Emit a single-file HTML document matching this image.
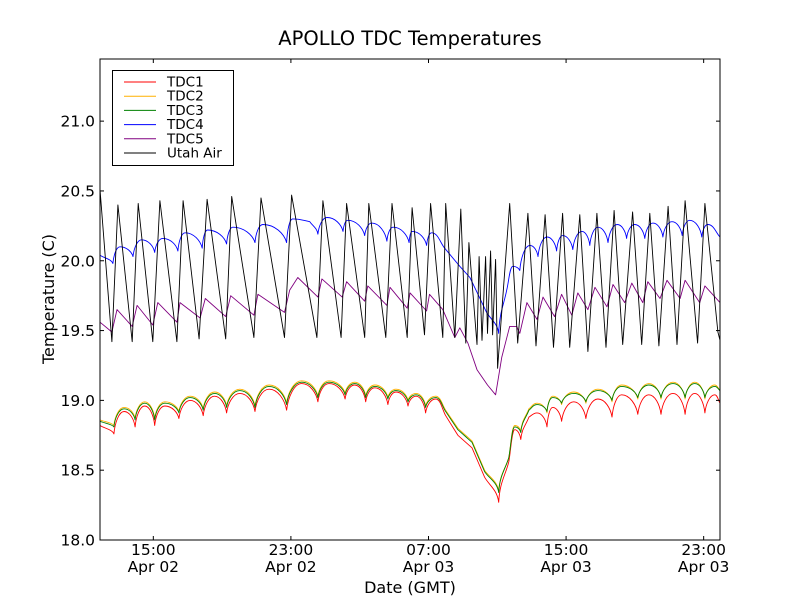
<!DOCTYPE html>
<html><head><meta charset="utf-8"><style>
html,body{margin:0;padding:0;background:#fff;}
svg{display:block;font-family:"DejaVu Sans","Liberation Sans",sans-serif;}
</style></head><body>
<svg id="chart" width="800" height="600" viewBox="0 0 800 600">
<rect width="800" height="600" fill="#fff"/>
<text x="410" y="45" font-size="19.5" text-anchor="middle">APOLLO TDC Temperatures</text>
<g id="series"></g>
<g id="axes"></g>
</svg>
<script>
// time in hours since Apr 02 00:00 GMT; values in deg C
const xTickHours = [15, 23, 31, 39, 47];
const xTickTimes = ["15:00","23:00","07:00","15:00","23:00"];
const xTickDates = ["Apr 02","Apr 02","Apr 03","Apr 03","Apr 03"];
const yTicks = [18.0, 18.5, 19.0, 19.5, 20.0, 20.5, 21.0];

const airT = [11.90,12.59,12.94,13.77,14.12,14.97,15.38,16.37,16.73,17.66,18.13,19.21,19.56,20.85,21.26,22.63,23.04,24.51,24.86,25.92,26.24,27.29,27.53,28.52,28.88,29.76,30.05,30.77,31.12,31.83,32.00,32.53,32.88,33.17,33.35,33.82,33.94,34.11,34.32,34.43,34.61,34.73,34.90,35.02,35.72,36.19,36.78,37.25,37.78,38.27,38.80,39.21,39.80,40.27,40.79,41.32,41.79,42.29,42.87,43.40,43.87,44.40,44.93,45.45,45.92,46.65,47.07,47.83,47.95];
const airV = [20.51,19.42,20.40,19.42,20.41,19.42,20.43,19.42,20.43,19.44,20.44,19.44,20.46,19.45,20.45,19.45,20.47,19.45,20.43,19.45,20.41,19.45,20.41,19.45,20.41,19.45,20.38,19.47,20.41,19.45,20.41,19.45,20.37,19.41,20.13,19.40,20.03,19.43,20.03,19.48,20.07,19.47,20.01,19.23,20.41,19.41,20.34,19.39,20.33,19.38,20.34,19.38,20.33,19.35,20.34,19.38,20.36,19.40,20.35,19.40,20.34,19.39,20.39,19.40,20.43,19.41,20.41,19.49,19.43];

const tdc4T = [11.90,12.65,13.06,13.82,14.32,15.08,15.55,16.43,16.84,17.84,18.15,19.26,19.62,20.91,21.37,22.75,23.10,24.10,24.57,25.10,26.03,26.30,27.29,27.70,28.58,28.94,29.87,30.05,30.89,31.18,31.94,32.82,33.41,34.38,35.08,35.55,35.90,36.31,36.90,37.37,37.89,38.45,38.80,39.39,39.92,40.38,40.85,41.44,41.97,42.52,42.99,43.58,44.05,44.63,45.16,45.75,46.19,46.89,47.24,47.95];
const tdc4V = [20.04,19.98,20.10,20.03,20.15,20.06,20.16,20.07,20.20,20.09,20.22,20.12,20.24,20.13,20.26,20.13,20.30,20.28,20.19,20.31,20.21,20.29,20.18,20.27,20.14,20.24,20.13,20.21,20.11,20.20,20.09,19.96,19.88,19.63,19.48,19.79,19.96,19.93,20.11,20.03,20.17,20.07,20.18,20.08,20.21,20.11,20.24,20.13,20.26,20.16,20.26,20.16,20.27,20.17,20.28,20.18,20.29,20.17,20.26,20.17];

const tdc5T = [11.90,12.59,12.89,13.77,14.06,14.97,15.26,16.37,16.55,17.72,18.02,19.21,19.50,20.85,21.08,22.63,22.93,23.40,24.57,24.80,25.98,26.24,27.29,27.47,28.58,28.76,29.76,29.93,30.89,31.06,31.83,32.53,32.82,33.29,33.82,34.43,34.90,35.26,35.72,36.13,36.31,36.72,37.31,37.66,38.33,38.74,39.33,39.68,40.27,40.68,41.38,41.73,42.41,42.82,43.46,43.75,44.46,44.87,45.63,45.92,46.77,47.07,47.95];
const tdc5V = [19.56,19.49,19.65,19.53,19.68,19.54,19.70,19.56,19.70,19.59,19.73,19.60,19.75,19.61,19.76,19.63,19.79,19.88,19.74,19.87,19.74,19.85,19.71,19.82,19.68,19.81,19.66,19.77,19.64,19.76,19.65,19.45,19.52,19.41,19.22,19.11,19.04,19.31,19.53,19.53,19.48,19.70,19.58,19.74,19.60,19.76,19.61,19.77,19.65,19.81,19.67,19.83,19.70,19.84,19.70,19.85,19.73,19.86,19.73,19.86,19.70,19.82,19.70];

const tdcT = [11.90,12.71,13.30,13.94,14.50,15.08,15.67,16.49,17.14,17.90,18.56,19.26,20.03,20.91,21.73,22.75,23.63,24.57,25.21,26.15,26.71,27.35,27.88,28.64,29.11,29.81,30.28,30.83,31.42,32.00,32.71,33.53,34.26,35.08,35.67,36.02,36.37,36.84,37.31,37.89,38.22,38.74,39.45,40.15,40.85,41.67,42.23,43.17,43.81,44.52,45.22,45.92,46.48,47.07,47.65,47.95];
const tdc3V = [18.85,18.81,18.94,18.86,18.98,18.86,18.98,18.91,19.02,18.93,19.05,18.95,19.07,18.95,19.10,18.97,19.13,19.02,19.13,19.04,19.12,19.02,19.10,19.01,19.07,18.99,19.04,18.95,19.02,18.92,18.79,18.70,18.49,18.34,18.59,18.81,18.77,18.93,18.97,18.92,19.02,18.98,19.05,18.99,19.07,19.00,19.10,19.02,19.11,19.02,19.12,19.02,19.12,19.02,19.10,19.07];
const tdc2V = [18.86,18.82,18.95,18.87,18.99,18.87,18.99,18.92,19.03,18.94,19.06,18.96,19.08,18.96,19.11,18.98,19.14,19.03,19.14,19.05,19.13,19.03,19.11,19.02,19.08,19.00,19.05,18.96,19.03,18.93,18.80,18.71,18.50,18.35,18.59,18.82,18.78,18.94,18.98,18.91,19.03,18.97,19.06,18.98,19.08,18.99,19.11,19.01,19.12,19.01,19.13,19.01,19.13,19.01,19.11,19.07];
const tdc1V = [18.82,18.76,18.92,18.81,18.96,18.82,18.96,18.87,19.00,18.89,19.03,18.91,19.05,18.92,19.08,18.93,19.12,18.99,19.12,19.01,19.11,18.99,19.09,18.97,19.06,18.96,19.03,18.91,19.01,18.89,18.75,18.66,18.45,18.27,18.56,18.79,18.72,18.88,18.91,18.81,18.95,18.85,18.99,18.87,19.01,18.88,19.04,18.90,19.04,18.90,19.05,18.90,19.05,18.91,19.04,18.98];

const X0 = 100, X1 = 720, Y0 = 540, Y1 = 59;
const tMin = 11.90, tMax = 47.95, vMin = 18.0, vMax = 21.445;
function xs(t){ return X0 + (t - tMin) / (tMax - tMin) * (X1 - X0); }
function ys(v){ return Y0 - (v - vMin) / (vMax - vMin) * (Y0 - Y1); }
const NS = "http://www.w3.org/2000/svg";
function mk(tag, attrs, parent){ const e = document.createElementNS(NS, tag); for (const k in attrs) e.setAttribute(k, attrs[k]); parent.appendChild(e); return e; }

const svg = document.getElementById('chart');
const series = document.getElementById('series');
const axes = document.getElementById('axes');

const clip = mk('clipPath', {id:'pc'}, svg);
mk('rect', {x:X0, y:Y1, width:X1-X0, height:Y0-Y1}, clip);
series.setAttribute('clip-path', 'url(#pc)');

function f(n){ return n.toFixed(1); }
function drawLine(T, V, color, name, smooth){
  const P = T.map((t, i) => [xs(t), ys(V[i])]);
  let d = 'M' + f(P[0][0]) + ',' + f(P[0][1]);
  function kind(i){
    if (i <= 0 || i >= P.length - 1) return 0;
    if (P[i][1] < P[i-1][1] && P[i][1] < P[i+1][1]) return 1;
    if (P[i][1] > P[i-1][1] && P[i][1] > P[i+1][1]) return -1;
    return 0;
  }
  for (let i = 1; i < P.length; i++) {
    const A = P[i-1], B = P[i];
    if (!smooth) { d += 'L' + f(B[0]) + ',' + f(B[1]); continue; }
    const dx = B[0] - A[0], dy = B[1] - A[1];
    let c1 = [A[0] + dx/3, A[1] + dy/3], c2 = [B[0] - dx/3, B[1] - dy/3];
    const ka = kind(i-1), kb = kind(i);
    if (ka === 1) c1 = [A[0] + dx*0.5, A[1]];
    if (ka === -1) c1 = [A[0] + dx*0.1, A[1] + dy*0.5];
    if (kb === 1) c2 = [B[0] - dx*0.5, B[1]];
    if (kb === -1) c2 = [B[0] - dx*0.1, B[1] - dy*0.5];
    d += 'C' + f(c1[0]) + ',' + f(c1[1]) + ' ' + f(c2[0]) + ',' + f(c2[1]) + ' ' + f(B[0]) + ',' + f(B[1]);
  }
  const p = mk('path', {d:d, fill:'none', stroke:color, 'stroke-width':0.9, 'stroke-linejoin':'round'}, series);
  
  
}
drawLine(tdcT, tdc1V, '#ff0000', 'tdc1-line', true);
drawLine(tdcT, tdc2V, '#ffb000', 'tdc2-line', true);
drawLine(tdcT, tdc3V, '#008000', 'tdc3-line', true);
drawLine(tdc4T, tdc4V, '#0000ff', 'tdc4-line', true);
drawLine(tdc5T, tdc5V, '#800080', 'tdc5-line', false);
drawLine(airT, airV, '#000000', 'utah-air-line', false);

const frame = mk('rect', {x:X0, y:Y1, width:X1-X0, height:Y0-Y1, fill:'none', stroke:'#000', 'stroke-width':1}, axes);



yTicks.forEach(v => {
  const y = ys(v);
  mk('line', {x1:X0, x2:X0+4, y1:y, y2:y, stroke:'#000'}, axes);
  mk('line', {x1:X1-4, x2:X1, y1:y, y2:y, stroke:'#000'}, axes);
  const t = mk('text', {x:X0-5, y:y+5.5, 'font-size':15.5, 'text-anchor':'end'}, axes);
  t.textContent = v.toFixed(1);
  
  
});
xTickHours.forEach((h, i) => {
  const x = xs(h);
  mk('line', {x1:x, x2:x, y1:Y0, y2:Y0-4, stroke:'#000'}, axes);
  mk('line', {x1:x, x2:x, y1:Y1, y2:Y1+4, stroke:'#000'}, axes);
  const t1 = mk('text', {x:x, y:555, 'font-size':15.5, 'text-anchor':'middle'}, axes);
  t1.textContent = xTickTimes[i];
  
  
  const t2 = mk('text', {x:x, y:572, 'font-size':15.5, 'text-anchor':'middle'}, axes);
  t2.textContent = xTickDates[i];
  
  
});
const xl = mk('text', {x:410, y:593, 'font-size':16, 'text-anchor':'middle'}, axes);
xl.textContent = 'Date (GMT)';


const yl = mk('text', {x:0, y:0, 'font-size':16, 'text-anchor':'middle', transform:'translate(54,299) rotate(-90)'}, axes);
yl.textContent = 'Temperature (C)';



const legNames = ['TDC1','TDC2','TDC3','TDC4','TDC5','Utah Air'];
const legColors = ['#ff0000','#ffb000','#008000','#0000ff','#800080','#000000'];
const lg = mk('g', {}, axes);


mk('rect', {x:112.5, y:70.5, width:121, height:95, fill:'#fff', stroke:'#000', 'stroke-width':1}, lg);
legNames.forEach((n, i) => {
  const y = 82 + i * 14.2;
  const g = mk('g', {}, lg);
  
  
  mk('line', {x1:124, x2:156, y1:y, y2:y, stroke:legColors[i], 'stroke-width':1}, g);
  const t = mk('text', {x:167, y:y+4.5, 'font-size':13.5}, g);
  t.textContent = n;
});
</script>
</body></html>
